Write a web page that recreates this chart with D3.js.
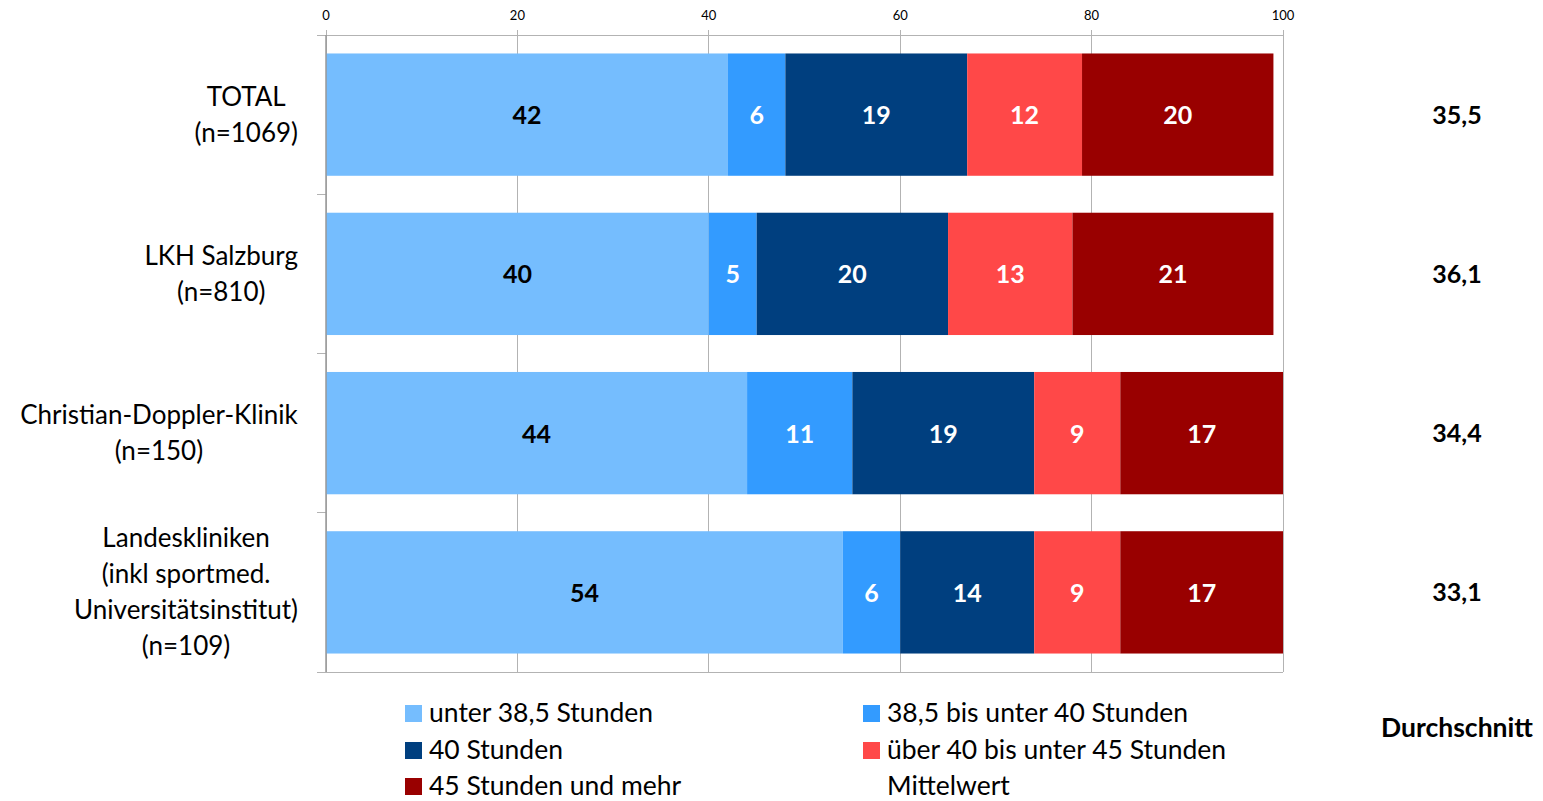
<!DOCTYPE html>
<html><head><meta charset="utf-8">
<script src="https://cdn.jsdelivr.net/npm/d3@7"></script>
<style>body{margin:0;background:#fff}svg{display:block}text{font-family:Lato,"Liberation Sans",sans-serif}</style>
</head><body>
<script>
const categories = ["TOTAL|(n=1069)", "LKH Salzburg|(n=810)", "Christian-Doppler-Klinik|(n=150)", "Landeskliniken|(inkl sportmed.|Universitätsinstitut)|(n=109)"];
const seriesNames = ["unter 38,5 Stunden", "38,5 bis unter 40 Stunden", "40 Stunden", "über 40 bis unter 45 Stunden", "45 Stunden und mehr"];
const seriesColors = ["#75BDFE", "#339BFF", "#003F7F", "#FF4848", "#990000"];
const labelColors = ["#000", "#fff", "#fff", "#fff", "#fff"];
const s1 = [42, 40, 44, 54];
const s2 = [6, 5, 11, 6];
const s3 = [19, 20, 19, 14];
const s4 = [12, 13, 9, 9];
const s5 = [20, 21, 17, 17];
const averages = ["35,5", "36,1", "34,4", "33,1"];
const xTicks = [0, 20, 40, 60, 80, 100];

const W = 1543, H = 801;
const svg = d3.select("body").append("svg").attr("width", W).attr("height", H);
const x = d3.scaleLinear().domain([0, 100]).range([326, 1283]);
const y = d3.scaleBand().domain(categories).range([35, 672]).paddingInner(0.232).paddingOuter(0.116);
const series = [s1, s2, s3, s4, s5];
const grid = "#b3b3b3";

// gridlines + top ticks
svg.append("g").selectAll("line").data(xTicks).join("line")
  .attr("x1", d => x(d)).attr("x2", d => x(d)).attr("y1", 30).attr("y2", 672)
  .attr("stroke", grid).attr("stroke-width", 1).attr("shape-rendering", "crispEdges");
svg.append("g").selectAll("text").data(xTicks).join("text")
  .attr("x", d => x(d)).attr("y", 20).attr("text-anchor", "middle")
  .attr("font-size", 13).attr("fill", "#000").text(d => d);
// top and bottom lines
[35, 672].forEach(yy => svg.append("line").attr("x1", 317).attr("x2", x(100)).attr("y1", yy).attr("y2", yy)
  .attr("stroke", grid).attr("shape-rendering", "crispEdges"));
// left axis ticks at band boundaries
const step = y.step();
const bounds = d3.range(categories.length + 1).map(i => 35 + i * step);
svg.append("g").selectAll("line").data(bounds).join("line")
  .attr("x1", 317).attr("x2", 326).attr("y1", d => d).attr("y2", d => d)
  .attr("stroke", grid).attr("shape-rendering", "crispEdges");

// bars
categories.forEach((c, i) => {
  let acc = 0;
  series.forEach((s, j) => {
    const v = s[i];
    const x0 = x(acc), x1 = x(acc + v);
    svg.append("rect").attr("x", x0).attr("y", y(c)).attr("width", x1 - x0).attr("height", y.bandwidth())
      .attr("fill", seriesColors[j]);
    svg.append("text").attr("x", (x0 + x1) / 2).attr("y", y(c) + y.bandwidth() / 2 + 9.5)
      .attr("text-anchor", "middle").attr("font-size", 25).attr("font-weight", "bold")
      .attr("fill", labelColors[j]).text(v);
    acc += v;
  });
  // averages
  svg.append("text").attr("x", 1457).attr("y", y(c) + y.bandwidth() / 2 + 9)
    .attr("text-anchor", "middle").attr("font-size", 25).attr("font-weight", "bold").text(averages[i]);
});
// left axis line
svg.append("line").attr("x1", 326).attr("x2", 326).attr("y1", 35).attr("y2", 672)
  .attr("stroke", "#999").attr("stroke-width", 1.5);

// category labels
categories.forEach(c => {
  const lines = c.split("|");
  const g = svg.append("g");
  const cy = y(c) + y.bandwidth() / 2;
  const lh = 36;
  const t = g.append("text").attr("font-size", 26).attr("text-anchor", "middle").attr("fill", "#000");
  lines.forEach((l, k) => {
    t.append("tspan").attr("x", 0).attr("y", cy + (k - (lines.length - 1) / 2) * lh + 9).text(l);
  });
  const bb = t.node().getBBox();
  g.attr("transform", `translate(${298 - bb.width / 2},0)`);
});

// legend
const legendPos = [[405, 713], [863, 713], [405, 750], [863, 750], [405, 786]];
seriesNames.forEach((n, j) => {
  const [lx, ly] = legendPos[j];
  svg.append("rect").attr("x", lx).attr("y", ly - 8).attr("width", 17).attr("height", 17).attr("fill", seriesColors[j]);
  svg.append("text").attr("x", lx + 24).attr("y", ly + 9).attr("font-size", 26.5).text(n);
});
svg.append("text").attr("x", 887).attr("y", 786 + 9).attr("font-size", 26.5).text("Mittelwert");
svg.append("text").attr("x", 1457).attr("y", 728 + 9).attr("text-anchor", "middle")
  .attr("font-size", 26.5).attr("font-weight", "bold").text("Durchschnitt");
</script>
</body></html>
